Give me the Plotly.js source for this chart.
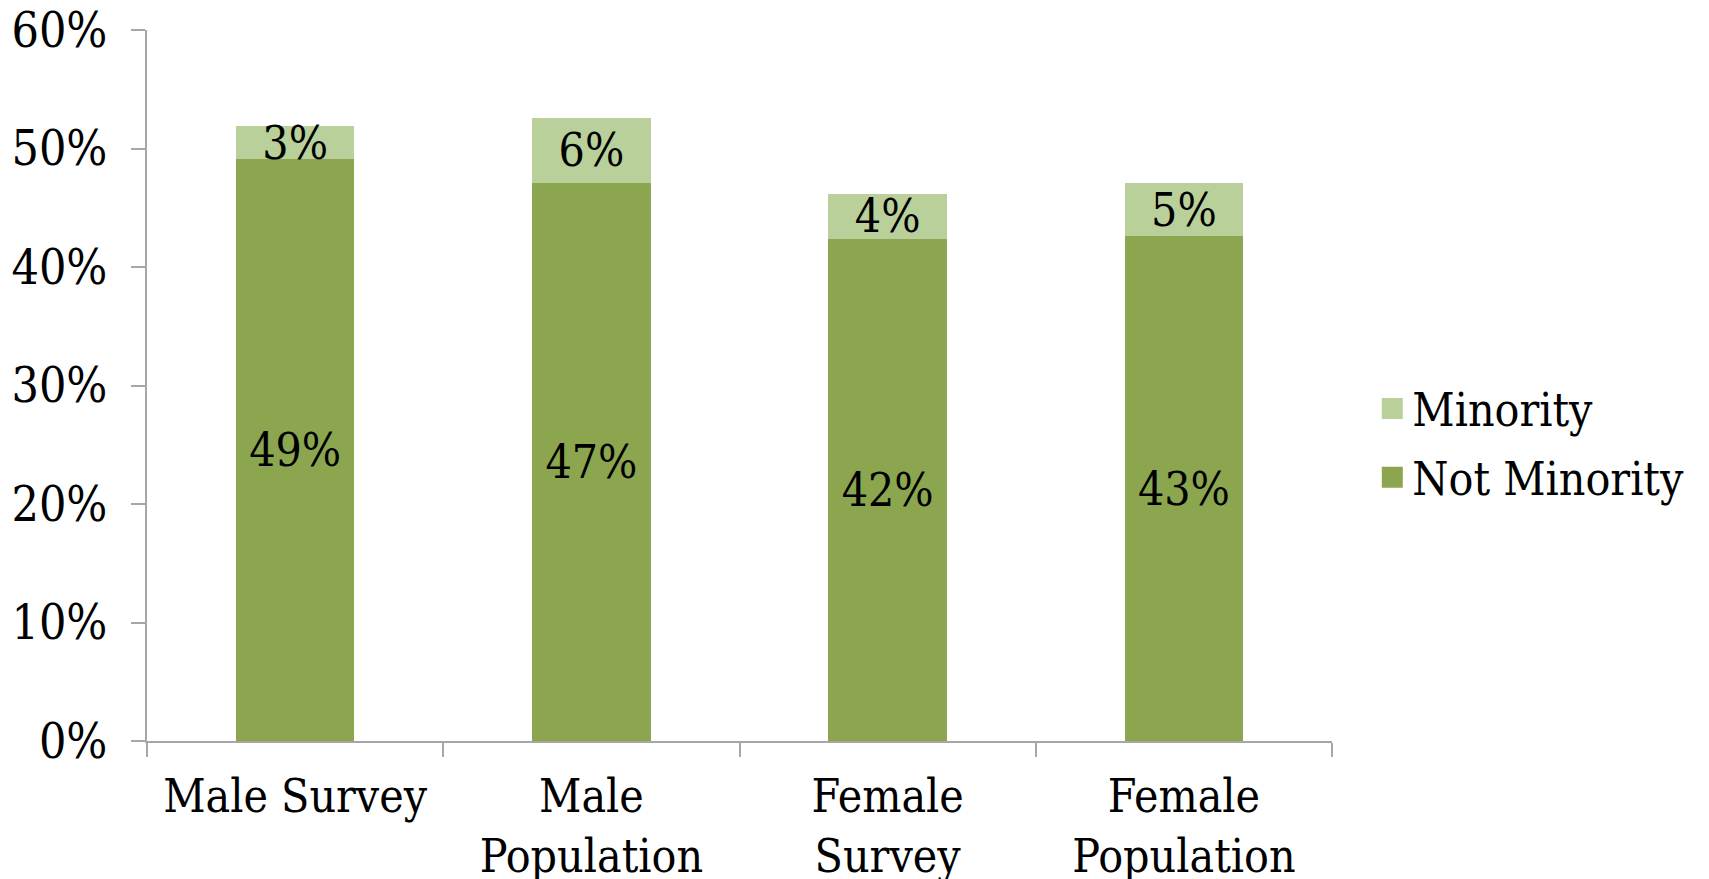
<!DOCTYPE html>
<html>
<head>
<meta charset="utf-8">
<script src="https://cdn.plot.ly/plotly-3.0.1.min.js"></script>
<style>
html, body { margin: 0; padding: 0; background: #ffffff; }
#chart { width: 1709px; height: 879px; }
</style>
</head>
<body>
<div id="chart"></div>
<script>
var categories = ["Male Survey", "Male<br>Population", "Female<br>Survey", "Female<br>Population"];
var notMinority = [49.1, 47.1, 42.4, 42.6];
var minority = [2.8, 5.5, 3.8, 4.5];
var seriesNames = ["Not Minority", "Minority"];
var yTicks = [0, 10, 20, 30, 40, 50, 60];

var DARK = "#8BA64F";
var LIGHT = "#BAD09A";
var FONT = "DejaVu Serif Condensed, DejaVu Serif, serif";

function labels(arr) { return arr.map(function (v) { return Math.round(v) + "%"; }); }

var barCommon = {
  type: "bar",
  x: categories,
  textposition: "inside",
  insidetextanchor: "middle",
  textangle: 0,
  constraintext: "none",
  textfont: { family: FONT, size: 46, color: "#000000" },
  hoverinfo: "skip",
  showlegend: false
};

var traces = [
  Object.assign({}, barCommon, {
    name: seriesNames[0], y: notMinority, text: labels(notMinority),
    marker: { color: DARK }
  }),
  Object.assign({}, barCommon, {
    name: seriesNames[1], y: minority, text: labels(minority),
    marker: { color: LIGHT }
  }),
  {
    type: "scatter", mode: "markers", x: [null], y: [null],
    name: seriesNames[1], legendgroup: "a", showlegend: true,
    marker: { symbol: "square", size: 16, color: LIGHT, line: { color: LIGHT, width: 5 } }
  },
  {
    type: "scatter", mode: "markers", x: [null], y: [null],
    name: seriesNames[0], legendgroup: "b", showlegend: true,
    marker: { symbol: "square", size: 16, color: DARK, line: { color: DARK, width: 5 } }
  }
];

var layout = {
  width: 1709, height: 879,
  paper_bgcolor: "#ffffff", plot_bgcolor: "#ffffff",
  margin: { l: 147, r: 377, t: 30, b: 138, pad: 0 },
  barmode: "stack",
  bargap: 0.6,
  font: { family: FONT, size: 46, color: "#000000" },
  xaxis: {
    type: "category",
    showline: true, linecolor: "#A6A6A6", linewidth: 2,
    ticks: "outside", tickson: "boundaries", ticklen: 14, tickwidth: 2, tickcolor: "#A6A6A6",
    ticklabelstandoff: 14,
    tickfont: { family: FONT, size: 46, color: "#000000" },
    showgrid: false, zeroline: false, fixedrange: true
  },
  yaxis: {
    range: [0, 60], tickvals: yTicks, ticktext: yTicks.map(function (v) { return v + "%"; }),
    showline: true, linecolor: "#A6A6A6", linewidth: 2,
    ticks: "outside", ticklen: 14, tickwidth: 2, tickcolor: "#A6A6A6",
    ticklabelstandoff: 14,
    tickfont: { family: FONT, size: 48, color: "#000000" },
    showgrid: false, zeroline: false, fixedrange: true
  },
  legend: {
    x: 1.034, xanchor: "left", y: 0.419, yanchor: "middle",
    traceorder: "grouped", tracegroupgap: 6,
    font: { family: FONT, size: 46, color: "#000000" },
    bgcolor: "rgba(0,0,0,0)", borderwidth: 0
  },
  showlegend: true
};

Plotly.newPlot("chart", traces, layout, { displayModeBar: false, staticPlot: true });
</script>
</body>
</html>
